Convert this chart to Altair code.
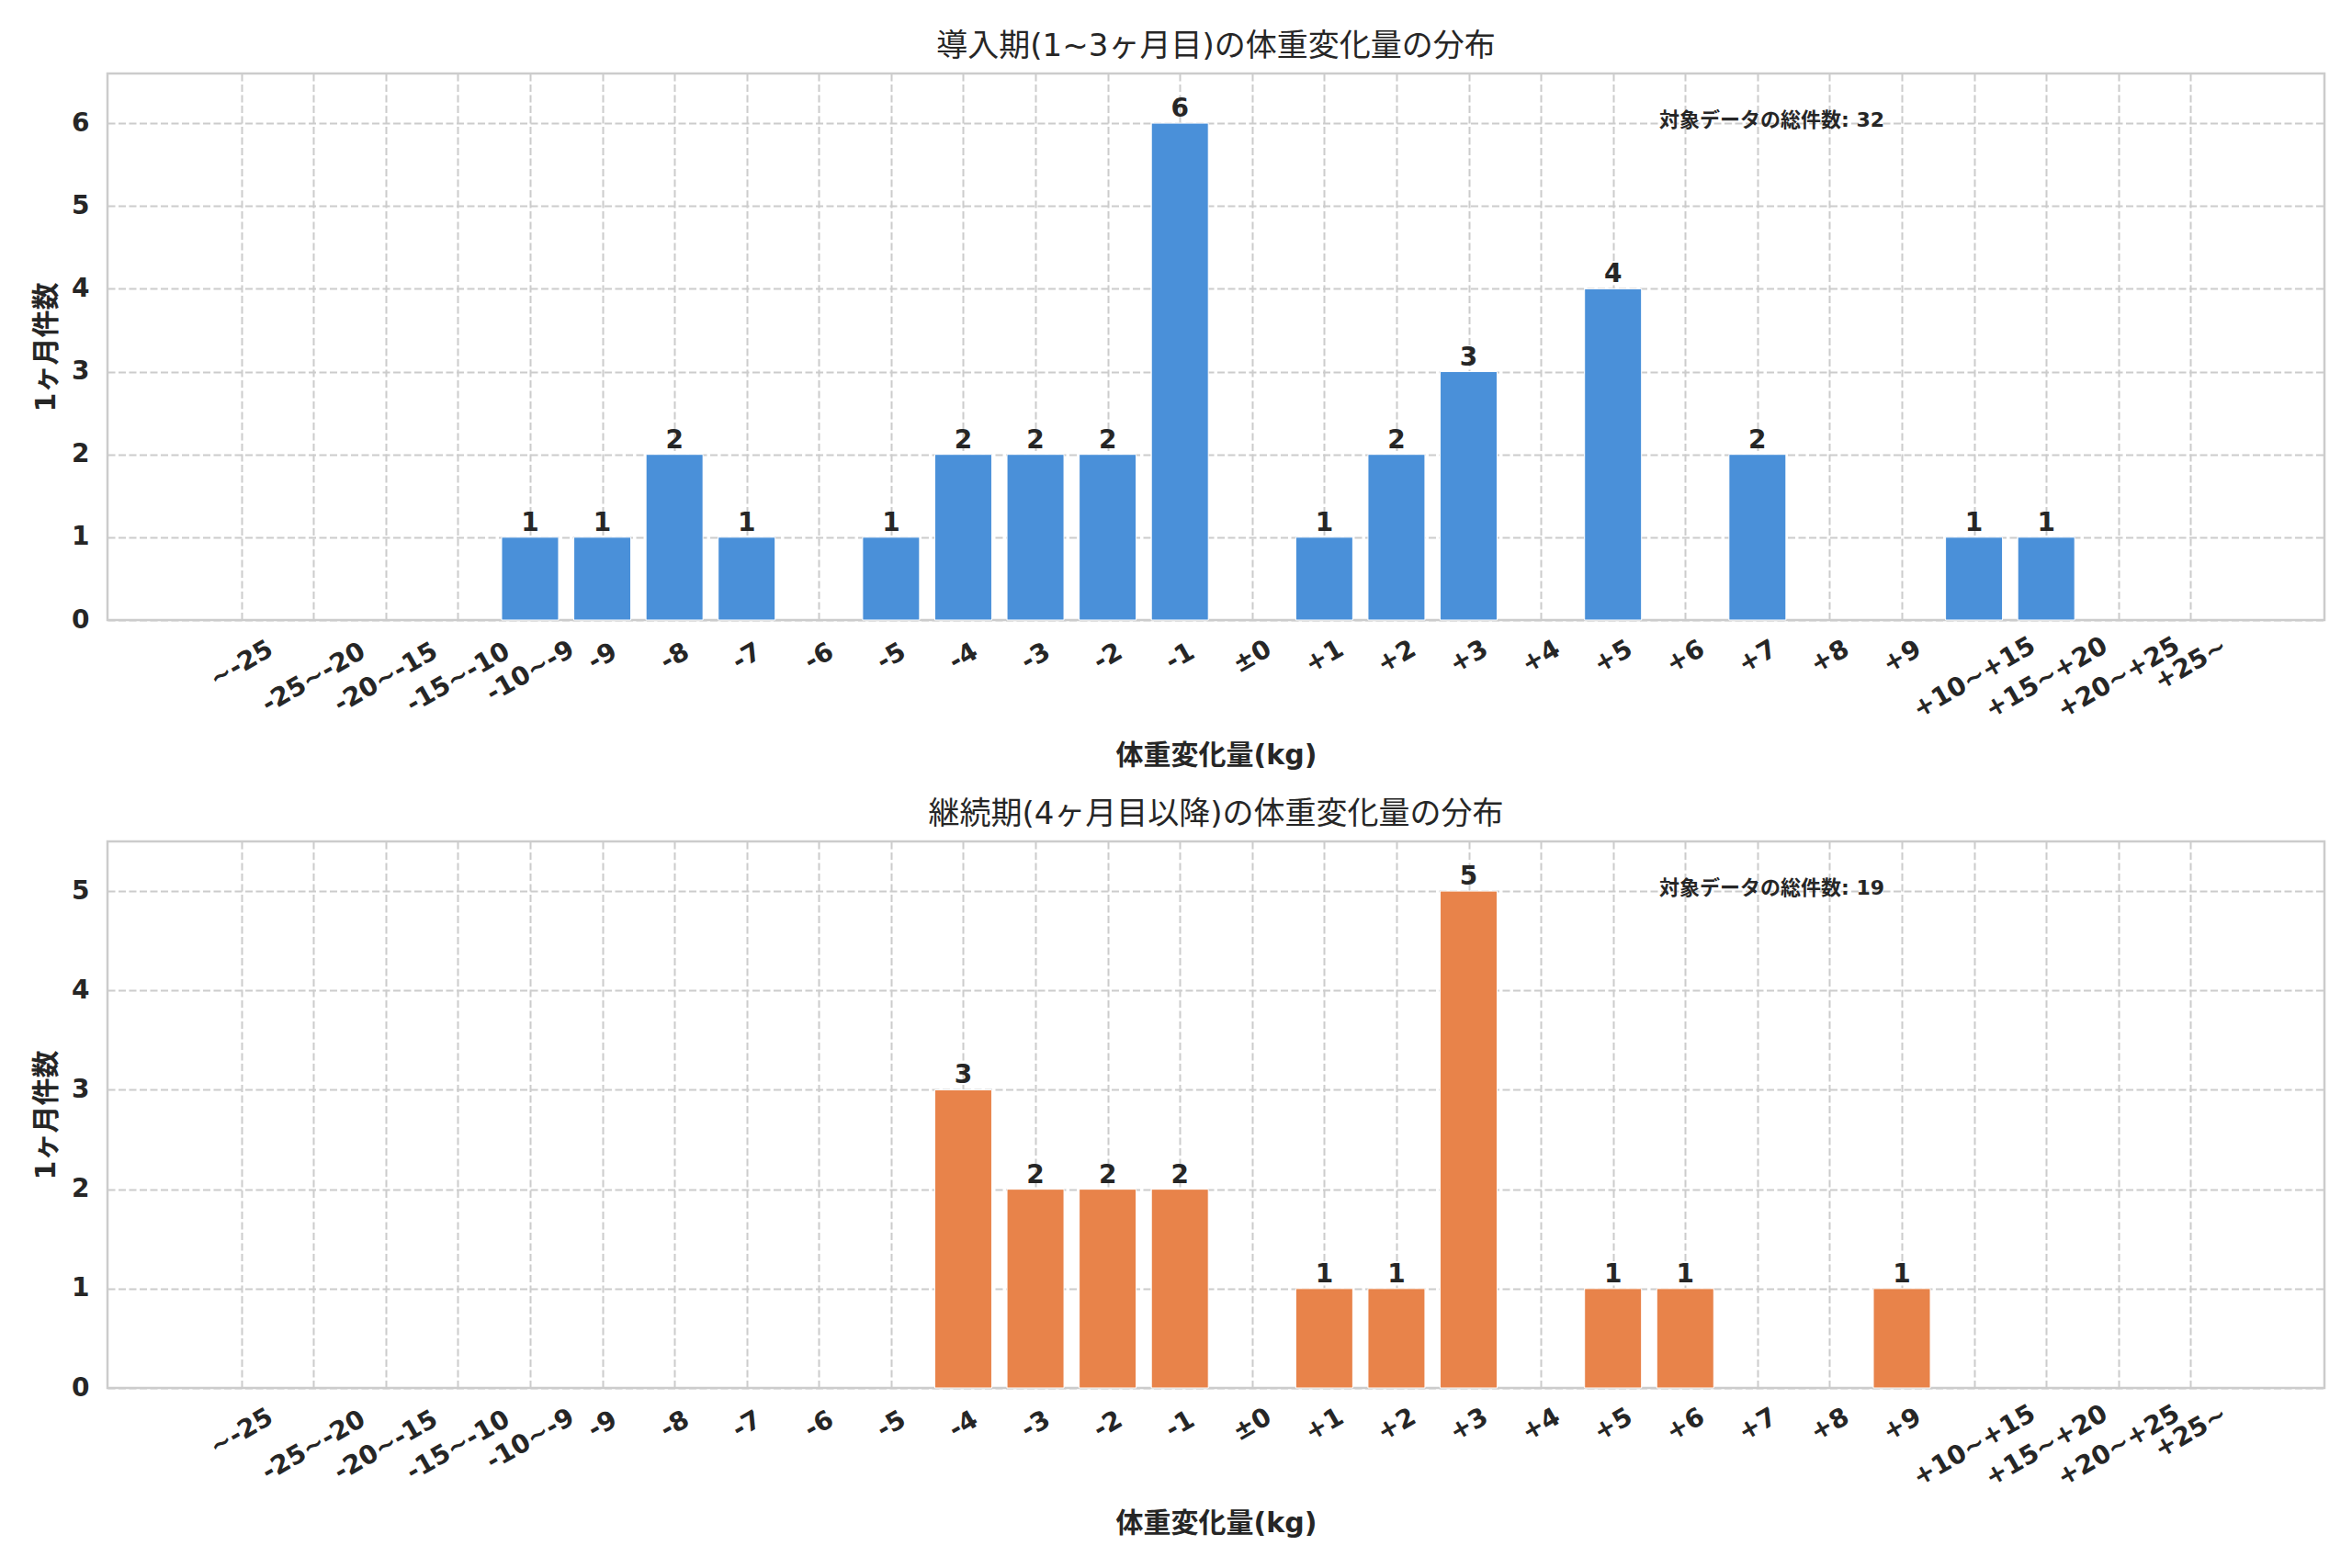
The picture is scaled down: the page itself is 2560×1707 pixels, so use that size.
import altair as alt
import pandas as pd

# ---- data ----
bins = ["~-25", "-25~-20", "-20~-15", "-15~-10", "-10~-9", "-9", "-8", "-7", "-6", "-5",
        "-4", "-3", "-2", "-1", "±0", "+1", "+2", "+3", "+4", "+5", "+6", "+7", "+8", "+9",
        "+10~+15", "+15~+20", "+20~+25", "+25~"]
early_counts = [0, 0, 0, 0, 1, 1, 2, 1, 0, 1, 2, 2, 2, 6, 0, 1, 2, 3, 0, 4, 0, 2, 0, 0, 1, 1, 0, 0]
late_counts = [0, 0, 0, 0, 0, 0, 0, 0, 0, 0, 3, 2, 2, 2, 0, 1, 1, 5, 0, 1, 1, 0, 0, 1, 0, 0, 0, 0]

early_title = "導入期(1~3ヶ月目)の体重変化量の分布"
late_title = "継続期(4ヶ月目以降)の体重変化量の分布"
x_title = "体重変化量(kg)"
y_title = "1ヶ月件数"
note_label = "対象データの総件数"

early_color = "#4A90D9"
late_color = "#E8834A"

# ---- styling ----
W, H = 2413, 595
TEXT = "#262626"
GRID = "#cccccc"
LATIN = "DejaVu Sans"
MIXED = "DejaVu Sans, Noto Sans CJK JP, sans-serif"

lab_arr = "[" + ",".join("'" + b + "'" for b in bins) + "]"
len_expr = "length(" + lab_arr + "[datum.value])"
x_label_padding = {
    "condition": [
        {"test": len_expr + " >= 7", "value": 63},
        {"test": len_expr + " >= 6", "value": 56},
        {"test": len_expr + " >= 4", "value": 48},
    ],
    "value": 40,
}


def panel(counts, title, color):
    n = len(bins)
    df = pd.DataFrame({"idx": list(range(n)), "bin": bins, "count": counts})
    ymax = max(counts)
    xscale = alt.Scale(domain=[-1.79, n - 1 + 1.79], nice=False, zero=False)
    yscale = alt.Scale(domain=[0, ymax * 1.1], nice=False, zero=True)
    xaxis = alt.Axis(
        values=list(range(n)), labelExpr=lab_arr + "[datum.value]",
        labelAngle=-30, labelAlign="center", labelBaseline="middle",
        labelPadding=x_label_padding, labelOverlap=False, labelFlush=False,
        labelFont=LATIN, labelFontSize=28, labelFontWeight="bold", labelColor=TEXT,
        ticks=False, domain=False,
        grid=True, gridDash=[8, 3.5], gridColor=GRID, gridWidth=2,
        title=x_title, titleFont=MIXED, titleFontSize=30, titleFontWeight="bold",
        titleColor=TEXT, titlePadding=20,
    )
    yaxis = alt.Axis(
        values=list(range(0, ymax + 1)), format="d",
        labelFont=LATIN, labelFontSize=28, labelFontWeight="bold", labelColor=TEXT,
        labelPadding=20, ticks=False, domain=False,
        grid=True, gridDash=[8, 3.5], gridColor=GRID, gridWidth=2,
        title=y_title, titleFont=MIXED, titleFontSize=30, titleFontWeight="bold",
        titleColor=TEXT, titlePadding=12,
    )
    base = alt.Chart(df)
    bars = base.transform_filter("datum.count > 0").mark_bar(
        size=62, color=color, stroke="white", strokeWidth=1
    ).encode(
        x=alt.X("idx:Q", scale=xscale, axis=xaxis),
        y=alt.Y("count:Q", scale=yscale, axis=yaxis),
        tooltip=["bin:N", "count:Q"],
    )
    labels = base.transform_filter("datum.count > 0").mark_text(
        baseline="bottom", dy=-1, font=LATIN, fontSize=28, fontWeight="bold", color=TEXT
    ).encode(
        x=alt.X("idx:Q", scale=xscale),
        y=alt.Y("count:Q", scale=yscale),
        text=alt.Text("count:Q", format="d"),
    )
    note_df = pd.DataFrame({"note": [f"{note_label}: {sum(counts)}"]})
    note = alt.Chart(note_df).mark_text(
        align="left", baseline="middle", font=MIXED, fontSize=22, fontWeight="bold", color=TEXT
    ).encode(
        x=alt.value(0.7 * W),
        y=alt.value(H * (1 - 0.915)),
        text="note:N",
    )
    return alt.layer(bars, labels, note).properties(
        width=W, height=H,
        title=alt.TitleParams(text=title, font=MIXED, fontSize=34, fontWeight="normal",
                              color=TEXT, offset=12),
    )


top = panel(early_counts, early_title, early_color)
bottom = panel(late_counts, late_title, late_color)

chart = alt.vconcat(top, bottom, spacing=29).properties(
    padding={"left": 26, "top": 24, "right": 5, "bottom": 5},
    background="white",
).configure_view(stroke=GRID, strokeWidth=2.5)

chart.save("out.html", embed_options={"renderer": "svg", "actions": False})
